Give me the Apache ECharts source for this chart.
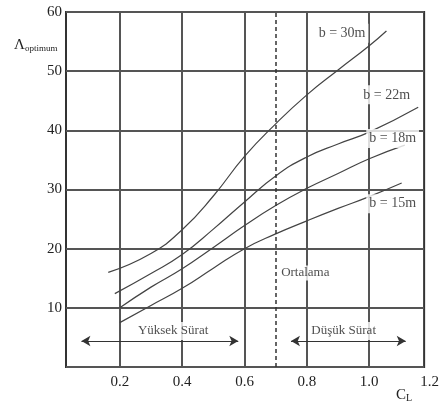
<!DOCTYPE html>
<html>
<head>
<meta charset="utf-8">
<script src="https://cdn.jsdelivr.net/npm/echarts@6/dist/echarts.min.js"></script>
<style>
  html, body { margin: 0; padding: 0; background: #fff; }
  #chart { width: 442px; height: 403px; }
</style>
</head>
<body>
<div id="chart"></div>
<script>
// values (C_L, Λ optimum)
const xTicks = [0.2, 0.4, 0.6, 0.8, 1.0];
const xMin = 0.0275;
const xMax = 1.176;

const b15 = [[0.2, 7.5], [0.3, 10.4], [0.4, 13.3], [0.5, 16.7], [0.6, 20], [0.7, 22.5], [0.8, 24.7], [0.9, 26.8], [1.0, 28.8], [1.104, 31.1]];
const b18 = [[0.2, 10], [0.3, 13.5], [0.4, 16.6], [0.5, 20.2], [0.6, 23.9], [0.7, 27.3], [0.8, 30.2], [0.9, 32.7], [1.0, 35.2], [1.114, 37.5]];
const b22 = [[0.184, 12.4], [0.3, 15.8], [0.4, 19.0], [0.5, 23.3], [0.6, 27.9], [0.7, 32.3], [0.8, 35.5], [0.9, 37.7], [1.0, 39.7], [1.157, 43.9]];
const b30 = [[0.163, 16.0], [0.3, 19.2], [0.4, 23.2], [0.5, 28.9], [0.6, 35.6], [0.7, 41.1], [0.8, 46.0], [0.9, 50.2], [1.0, 54.3], [1.055, 56.8]];

const ortalamaX = 0.7;
const textMarks = [
  { name: 'b = 30m', value: [0.913, 56.4], size: 14 },
  { name: 'b = 22m', value: [1.056, 46.0], size: 14 },
  { name: 'b = 18m', value: [1.075, 38.6], size: 14 },
  { name: 'b = 15m', value: [1.075, 27.6], size: 14 },
  { name: 'Yüksek Sürat', value: [0.371, 6.1], size: 13 },
  { name: 'Düşük Sürat', value: [0.918, 6.1], size: 13 },
];
const ortalama = [0.711, 15.9];
const arrowY = 4.4;
const arrowYuksek = [0.077, 0.58];
const arrowDusuk = [0.749, 1.117];

const serif = '"Liberation Serif", "DejaVu Serif", serif';
const chart = echarts.init(document.getElementById('chart'));

function curve(name, data) {
  return {
    name,
    type: 'line',
    data,
    smooth: 0.5,
    showSymbol: false,
    silent: true,
    lineStyle: { color: '#444', width: 1.2 },
  };
}

chart.setOption({
  animation: false,
  title: [
    {
      text: '{a|Λ}{s|optimum}',
      left: 9,
      top: 33,
      textStyle: {
        fontWeight: 'normal',
        rich: {
          a: { fontFamily: serif, fontSize: 15, fontWeight: 'normal', color: '#222', verticalAlign: 'bottom' },
          s: { fontFamily: serif, fontSize: 9, fontWeight: 'normal', color: '#222', verticalAlign: 'bottom', padding: [5, 0, 0, 0] },
        },
      },
    },
    {
      text: '{a|C}{s|L}',
      left: 391,
      top: 383,
      textStyle: {
        fontWeight: 'normal',
        rich: {
          a: { fontFamily: serif, fontSize: 15, fontWeight: 'normal', color: '#222', verticalAlign: 'bottom' },
          s: { fontFamily: serif, fontSize: 10, fontWeight: 'normal', color: '#222', verticalAlign: 'bottom', padding: [5, 0, 0, 0] },
        },
      },
    },
  ],
  grid: {
    left: 66,
    right: 13,
    top: 12,
    bottom: 36,
    show: true,
    borderColor: '#333',
    borderWidth: 2,
  },
  xAxis: {
    type: 'value',
    min: xMin,
    max: xMax,
    axisLine: { show: false },
    axisTick: { show: false, customValues: xTicks },
    splitLine: { show: true, lineStyle: { color: '#555', width: 2 } },
    axisLabel: {
      customValues: xTicks.concat([xMax]),
      margin: 8,
      color: '#222',
      fontFamily: serif,
      fontSize: 15,
      formatter: (v) => (v > 1.1 ? '{r|1.2}' : v.toFixed(1)),
      rich: { r: { fontFamily: serif, fontSize: 15, color: '#222', padding: [0, 0, 0, 11] } },
    },
  },
  yAxis: {
    type: 'value',
    min: 0,
    max: 60,
    interval: 10,
    axisLine: { show: false },
    axisTick: { show: false },
    splitLine: { show: true, lineStyle: { color: '#555', width: 2 } },
    axisLabel: {
      margin: 4,
      color: '#222',
      fontFamily: serif,
      fontSize: 15,
      formatter: (v) => (v === 0 ? '' : String(v)),
    },
  },
  series: [
    curve('b = 15m', b15),
    curve('b = 18m', b18),
    curve('b = 22m', b22),
    curve('b = 30m', b30),
    {
      type: 'line',
      data: [],
      silent: true,
      markLine: {
        silent: true,
        animation: false,
        symbol: 'none',
        label: { show: false },
        lineStyle: { color: '#333', width: 1.5, type: [4, 3] },
        data: [{ xAxis: ortalamaX }],
      },
    },
    {
      type: 'line',
      data: [],
      silent: true,
      markLine: {
        silent: true,
        animation: false,
        symbol: ['arrow', 'arrow'],
        symbolSize: [8, 9],
        label: { show: false },
        lineStyle: { color: '#333', width: 1.2, type: 'solid' },
        data: [
          [{ coord: [arrowYuksek[0], arrowY] }, { coord: [arrowYuksek[1], arrowY] }],
          [{ coord: [arrowDusuk[0], arrowY] }, { coord: [arrowDusuk[1], arrowY] }],
        ],
      },
    },
    {
      type: 'scatter',
      z: 10,
      silent: true,
      symbolSize: 0,
      data: textMarks.map((t) => ({
        name: t.name,
        value: t.value,
        label: {
          show: true,
          position: 'inside',
          formatter: '{b}',
          fontFamily: serif,
          fontSize: t.size,
          color: '#222',
          backgroundColor: '#fff',
          padding: [2, 3, 3, 3],
        },
      })),
    },
    {
      type: 'scatter',
      z: 10,
      silent: true,
      symbolSize: 0,
      data: [{
        name: 'Ortalama',
        value: ortalama,
        label: {
          show: true,
          position: 'right',
          distance: 0,
          formatter: '{b}',
          fontFamily: serif,
          fontSize: 13,
          color: '#222',
          backgroundColor: '#fff',
          padding: [1, 2, 1, 2],
        },
      }],
    },
  ],
});
</script>
</body>
</html>
